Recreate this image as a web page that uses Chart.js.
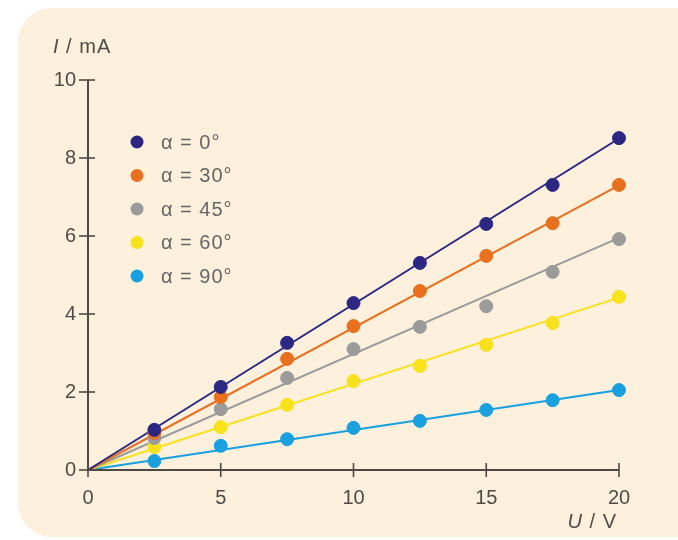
<!DOCTYPE html>
<html><head><meta charset="utf-8">
<script src="https://cdn.jsdelivr.net/npm/chart.js@4/dist/chart.umd.min.js"></script>
<style>html,body{margin:0;padding:0;background:#fff;}#wrap{width:678px;height:540px;}</style>
</head><body><div id="wrap"><canvas id="c" width="678" height="540"></canvas></div>
<script>
const voltages = [2.5, 5, 7.5, 10, 12.5, 15, 17.5, 20];
const seriesLabels = ['α = 0°', 'α = 30°', 'α = 45°', 'α = 60°', 'α = 90°'];
const current0 = [1.03, 2.13, 3.26, 4.28, 5.31, 6.31, 7.31, 8.51];
const current30 = [0.95, 1.87, 2.85, 3.69, 4.59, 5.49, 6.33, 7.31];
const current45 = [0.82, 1.56, 2.36, 3.10, 3.67, 4.20, 5.08, 5.92];
const current60 = [0.59, 1.10, 1.67, 2.28, 2.67, 3.21, 3.77, 4.44];
const current90 = [0.23, 0.62, 0.79, 1.08, 1.26, 1.54, 1.79, 2.05];
const fitX = [0, 20];
const fitEnd = [8.5, 7.3, 5.95, 4.42, 2.05];
const xTicks = [0, 5, 10, 15, 20];
const yTicks = [0, 2, 4, 6, 8, 10];
const colors = ['#2b2783', '#e8701e', '#9b9b9b', '#f7e21b', '#18a0df'];
const allSeries = [current0, current30, current45, current60, current90];

const datasets = [];
allSeries.forEach((s, i) => {
  datasets.push({
    type: 'line', label: seriesLabels[i] + ' fit',
    data: fitX.map(x => ({x: x, y: fitEnd[i] * x / 20})),
    borderColor: colors[i], borderWidth: 2, pointRadius: 0, fill: false, isFit: true, order: 2, clip: false
  });
});
allSeries.forEach((s, i) => {
  datasets.push({
    type: 'scatter', label: seriesLabels[i],
    data: voltages.map((v, k) => ({x: v, y: s[k]})),
    backgroundColor: colors[i], borderColor: colors[i], pointRadius: 6.5, pointHoverRadius: 6.5, order: 1, clip: false
  });
});

const FONT = '"Liberation Sans", Arial, sans-serif';
const TXT = '#4e4b48';

const decor = {
  id: 'decor',
  beforeDraw(chart) {
    const ctx = chart.ctx;
    ctx.save();
    ctx.fillStyle = '#fdf0dc';
    ctx.beginPath();
    ctx.roundRect(18, 8, 700, 529, 34);
    ctx.fill();
    ctx.restore();
  },
  afterDraw(chart) {
    const ctx = chart.ctx, xs = chart.scales.x, ys = chart.scales.y;
    const x0 = xs.getPixelForValue(0), y0 = ys.getPixelForValue(0);
    ctx.save();
    ctx.strokeStyle = '#4d4a46';
    ctx.lineWidth = 2;
    ctx.beginPath();
    ctx.moveTo(x0, ys.getPixelForValue(10)); ctx.lineTo(x0, y0);
    ctx.lineTo(xs.getPixelForValue(20), y0);
    ctx.stroke();
    ctx.lineWidth = 1.6;
    yTicks.forEach(v => {
      const p = ys.getPixelForValue(v);
      ctx.beginPath(); ctx.moveTo(x0 - 9, p); ctx.lineTo(x0 + 7, p); ctx.stroke();
    });
    xTicks.forEach(v => {
      const p = xs.getPixelForValue(v);
      ctx.beginPath(); ctx.moveTo(p, y0 - 7); ctx.lineTo(p, y0 + 7); ctx.stroke();
    });
    // axis titles
    ctx.fillStyle = TXT;
    ctx.textBaseline = 'alphabetic';
    ctx.textAlign = 'left';
    ctx.letterSpacing = '1px';
    ctx.font = 'italic 20px ' + FONT;
    let tx = 53;
    ctx.fillText('I', tx, 53);
    tx += ctx.measureText('I').width;
    ctx.font = '20px ' + FONT;
    ctx.fillText(' / mA', tx, 53);
    const rest = ' / V';
    const rw = ctx.measureText(rest).width;
    ctx.font = 'italic 20px ' + FONT;
    const uw = ctx.measureText('U').width;
    const right = 617;
    ctx.fillText('U', right - rw - uw, 528);
    ctx.font = '20px ' + FONT;
    ctx.fillText(rest, right - rw, 528);
    // legend
    const pts = chart.data.datasets.filter(d => !d.isFit);
    pts.forEach((d, i) => {
      const y = 142 + i * 33.5;
      ctx.fillStyle = d.backgroundColor;
      ctx.beginPath(); ctx.arc(137, y, 6.5, 0, Math.PI * 2); ctx.fill();
      ctx.fillStyle = '#666';
      ctx.font = '20px ' + FONT;
      ctx.letterSpacing = '1px';
      ctx.textBaseline = 'middle';
      ctx.fillText(d.label, 161, y + 1);
    });
    ctx.restore();
  }
};

new Chart(document.getElementById('c'), {
  data: { datasets: datasets },
  options: {
    responsive: false, animation: false,
    layout: { padding: { left: 0, top: 80, right: 59, bottom: 0 } },
    plugins: { legend: { display: false }, tooltip: { enabled: false } },
    scales: {
      x: {
        type: 'linear', min: 0, max: 20,
        afterBuildTicks: s => { s.ticks = xTicks.map(v => ({value: v})); },
        afterFit: s => { s.height = 70; },
        grid: { display: false }, border: { display: false },
        ticks: { color: TXT, font: { family: FONT, size: 20 }, padding: 8, maxRotation: 0 }
      },
      y: {
        type: 'linear', min: 0, max: 10,
        afterBuildTicks: s => { s.ticks = yTicks.map(v => ({value: v})); },
        afterFit: s => { s.width = 88; },
        grid: { display: false }, border: { display: false },
        ticks: { color: TXT, font: { family: FONT, size: 20 }, padding: 4 }
      }
    }
  },
  plugins: [decor]
});
</script></body></html>
